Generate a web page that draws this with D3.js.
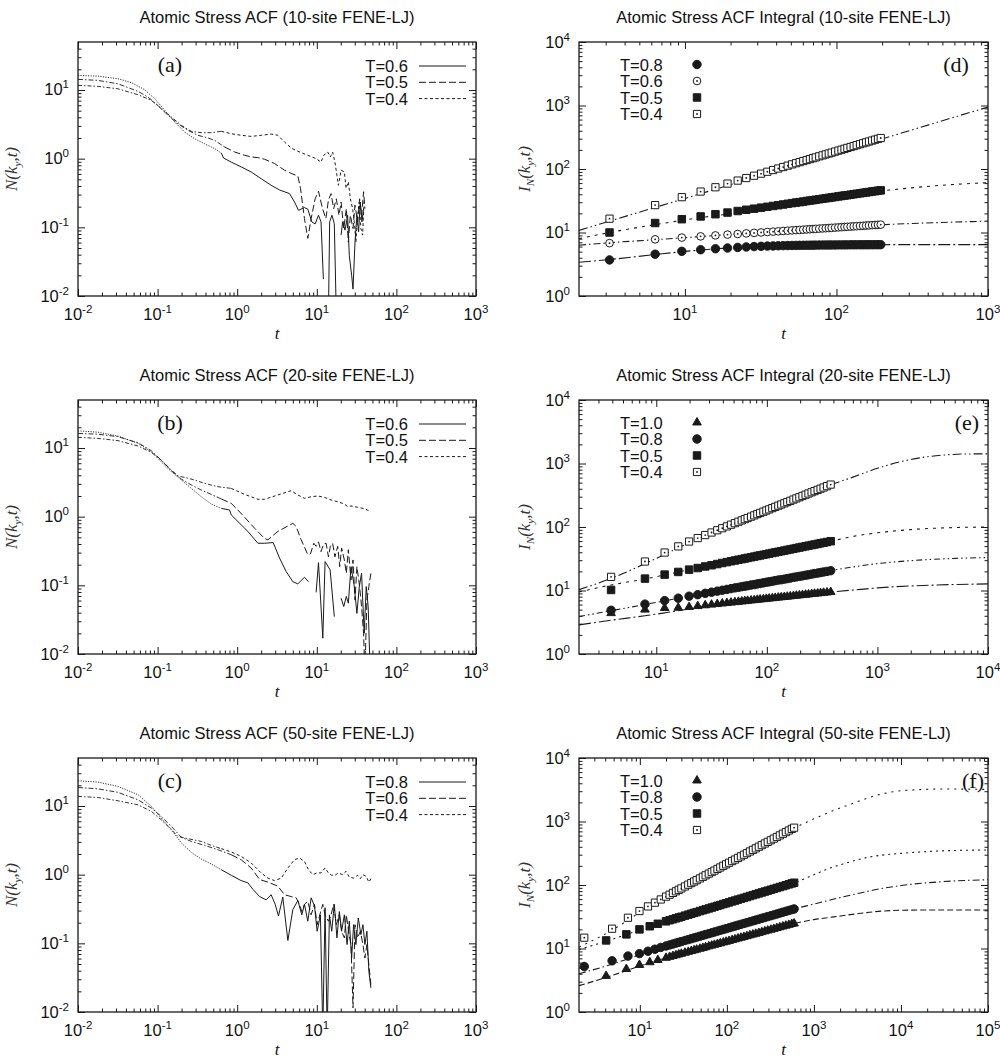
<!DOCTYPE html>
<html>
<head>
<meta charset="utf-8">
<script src="https://cdnjs.cloudflare.com/ajax/libs/d3/7.8.5/d3.min.js"></script>
<style>
body { margin: 0; background: #fff; }
text { font-family: "Liberation Sans", Arial, sans-serif; fill: #111; }
</style>
</head>
<body>
<svg id="fig" width="1000" height="1062"></svg>
<script>
// ---------- left column: stress ACF N(k_y,t), pairs [t, N], null = gap (negative values)
var aT06 = [[0.01,16.3],[0.0178,15.9],[0.0318,14.6],[0.0468,12.8],[0.0689,10.1],[0.0919,7.46],[0.123,5.05],[0.164,3.42],
  [0.219,2.44],[0.292,1.95],[0.390,1.65],[0.520,1.40],[0.631,1.21],[0.675,1.02],[0.842,0.89],[1.12,0.76],[1.50,0.64],
  [2.00,0.51],[2.67,0.41],[3.40,0.35],[4.54,0.31],[5.25,0.234],[5.89,0.177],[7.00,0.194],[7.71,0.184],[8.66,0.120],
  [9.53,0.112],[10.5,0.150],[11.3,0.120],[12.1,0.0176],null,[14.0,0.005],[14.5,0.120],[15.5,0.150],[16.6,0.113],
  [17.6,0.005],null,[20.2,0.077],[21.1,0.120],[22.6,0.091],[24.4,0.150],[25.6,0.039],[27.4,0.020],[28.5,0.0126],
  [30.2,0.061],[31.9,0.150],[33.5,0.086],[35.2,0.234],[36.9,0.120],[38.7,0.187]];
var aT05 = [[0.01,14.3],[0.0178,13.8],[0.0318,12.3],[0.0568,9.55],[0.0757,7.89],[0.101,5.97],[0.135,4.27],[0.180,3.23],
  [0.241,2.58],[0.321,2.19],[0.430,2.00],[0.520,1.85],[0.694,1.48],[0.929,1.25],[1.24,1.12],[1.50,1.06],[1.82,1.035],
  [2.21,0.98],[2.94,0.85],[3.93,0.68],[4.76,0.61],[5.78,0.56],[6.24,0.37],[7.00,0.134],[7.71,0.069],[8.49,0.134],
  [9.53,0.26],[10.5,0.335],[11.8,0.187],[13.0,0.134],[14.0,0.25],[15.1,0.31],[16.3,0.187],[17.6,0.26],[19.0,0.150],
  [20.2,0.234],[21.8,0.096],[23.5,0.187],[24.9,0.061],[26.4,0.150],[28.5,0.096],[30.2,0.21],[32.6,0.120],[34.5,0.26],
  [36.5,0.150],[38.7,0.33],[40.2,0.187]];
var aT04 = [[0.01,11.7],[0.0178,11.3],[0.0318,10.4],[0.0568,8.53],[0.0835,7.06],[0.111,5.34],[0.149,4.04],[0.199,3.05],
  [0.265,2.50],[0.354,2.39],[0.472,2.39],[0.631,2.50],[0.842,2.31],[1.12,2.19],[1.50,2.11],[2.00,2.19],[2.67,2.28],
  [3.24,2.19],[3.93,1.75],[4.76,1.43],[5.78,1.28],[7.71,1.12],[9.81,1.00],[11.3,0.89],[12.2,1.12],[13.7,1.25],
  [14.8,1.06],[15.8,1.25],[16.9,0.89],[17.9,0.57],[18.7,0.41],[20.2,0.68],[22.2,0.64],[23.3,0.37],[24.9,0.46],
  [26.4,0.26],[28.2,0.187],[29.6,0.120],[31.0,0.061],[32.6,0.150],[34.2,0.234],[35.8,0.096],[37.6,0.077],[39.4,0.26]];

var bT06 = [[0.01,17.8],[0.0178,17.0],[0.0318,14.9],[0.0568,11.7],[0.0835,8.83],[0.111,6.31],[0.149,4.52],[0.199,3.42],
  [0.265,2.58],[0.354,1.95],[0.472,1.53],[0.631,1.32],[0.802,1.25],[0.842,1.06],[1.02,0.85],[1.36,0.61],[1.82,0.41],
  [2.21,0.41],[2.83,0.42],[3.40,0.25],[4.12,0.159],[5.00,0.113],[5.78,0.105],[7.00,0.131],[7.86,0.113],null,
  [9.81,0.079],[10.5,0.214],[11.9,0.017],[12.7,0.222],[14.7,0.168],[16.6,0.035],null,[20.2,0.065],[21.8,0.049],
  [23.5,0.069],[24.9,0.055],[26.9,0.187],[29.6,0.096],[31.9,0.039],[34.2,0.096],[36.5,0.150],[39.4,0.020],
  [41.8,0.096],[44.2,0.049],[46.9,0.005]];
var bT05 = [[0.01,16.3],[0.0178,15.9],[0.0318,14.6],[0.0568,11.9],[0.0835,9.12],[0.111,6.67],[0.149,4.67],[0.199,3.53],
  [0.265,2.89],[0.354,2.44],[0.472,2.11],[0.631,1.81],[0.842,1.56],[1.02,1.25],[1.24,0.98],[1.65,0.68],[2.21,0.48],
  [2.43,0.46],[3.24,0.61],[4.33,0.73],[5.00,0.80],[5.50,0.72],[6.36,0.46],[7.71,0.28],[8.33,0.287],[9.17,0.41],
  [9.81,0.37],[10.5,0.43],[11.3,0.31],[12.2,0.40],[13.1,0.41],[14.0,0.26],[14.8,0.37],[15.8,0.41],[16.9,0.26],
  [18.3,0.37],[19.4,0.187],[20.5,0.35],[22.2,0.234],[23.5,0.150],[24.9,0.33],[26.9,0.120],[28.5,0.234],[30.2,0.061],
  [31.9,0.187],[34.5,0.096],[36.5,0.049],[38.7,0.020],[40.2,0.005],[42.6,0.061],[45.1,0.096],[47.8,0.150]];
var bT04 = [[0.01,14.3],[0.0178,13.8],[0.0318,12.8],[0.0568,10.7],[0.0835,8.63],[0.111,6.67],[0.149,4.78],[0.180,3.91],
  [0.219,3.73],[0.292,3.42],[0.390,3.05],[0.573,2.73],[0.842,2.58],[1.24,2.11],[1.82,1.79],[2.21,1.79],[3.24,2.07],
  [4.76,2.39],[5.78,2.07],[7.00,1.85],[8.49,1.95],[10.3,2.00],[12.5,1.91],[15.1,1.75],[18.3,1.65],[22.2,1.53],
  [24.4,1.40],[26.9,1.43],[32.6,1.37],[39.4,1.31],[47.8,1.18]];

var cT08 = [[0.01,23.3],[0.0178,22.3],[0.0318,19.3],[0.0568,14.6],[0.0835,9.86],[0.111,6.67],[0.149,4.52],[0.199,2.89],
  [0.265,2.11],[0.354,1.69],[0.472,1.43],[0.631,1.18],[0.842,0.98],[1.12,0.82],[1.36,0.76],[1.58,0.61],[1.91,0.48],
  [2.31,0.43],[2.67,0.51],[3.00,0.37],[3.30,0.25],[3.74,0.47],[4.33,0.110],[5.00,0.31],[5.78,0.42],[6.48,0.26],
  [7.00,0.37],[7.71,0.21],[8.49,0.46],[9.35,0.35],[10.1,0.150],[11.1,0.26],[11.9,0.005],[12.7,0.33],[13.5,0.005],
  [14.4,0.26],[15.4,0.150],[16.6,0.37],[17.9,0.120],[19.2,0.29],[20.5,0.150],[22.2,0.26],[24.0,0.096],[25.6,0.21],
  [27.4,0.061],[29.0,0.187],[31.0,0.096],[33.2,0.234],[35.8,0.134],[38.0,0.187],[40.2,0.096],[42.6,0.150],
  [45.1,0.039],[47.8,0.0225]];
var cT06 = [[0.01,18.6],[0.0178,17.8],[0.0318,15.8],[0.0568,12.3],[0.0835,9.33],[0.111,7.06],[0.149,5.05],[0.199,3.49],
  [0.265,3.05],[0.390,2.67],[0.573,2.31],[0.842,1.95],[1.12,1.65],[1.50,1.25],[1.91,0.85],[2.43,0.78],[3.24,0.68],
  [3.93,0.51],[4.76,0.48],[5.50,0.46],[6.06,0.37],[6.48,0.29],[7.00,0.37],[7.71,0.41],[8.49,0.26],[9.35,0.37],
  [10.1,0.187],[10.9,0.26],[11.9,0.37],[12.7,0.26],[14.0,0.21],[15.1,0.26],[16.3,0.37],[17.6,0.187],[19.2,0.26],
  [20.5,0.150],[22.2,0.120],[23.5,0.26],[25.4,0.134],[26.9,0.096],[28.5,0.0115],[30.2,0.187],[32.6,0.120],
  [35.2,0.150],[38.0,0.096],[40.2,0.061],[42.6,0.096],[45.1,0.049],[47.8,0.025]];
var cT04 = [[0.01,13.8],[0.0178,13.3],[0.0318,11.9],[0.0568,10.4],[0.0835,8.34],[0.111,6.31],[0.149,4.52],[0.180,3.61],
  [0.241,3.34],[0.354,3.05],[0.472,2.67],[0.631,2.39],[0.842,2.14],[1.12,1.85],[1.50,1.48],[2.00,1.06],[2.43,0.89],
  [2.94,0.82],[3.57,0.89],[4.33,1.25],[5.25,1.65],[6.06,1.75],[7.00,1.56],[7.86,1.18],[8.9,1.00],[10.1,1.06],
  [11.3,1.06],[12.7,1.25],[14.0,1.06],[15.4,0.98],[16.9,0.98],[18.7,1.06],[21.1,1.00],[23.3,1.12],[25.6,0.92],
  [29.0,0.89],[32.6,0.98],[35.2,0.875],[38.0,1.00],[41.8,0.94],[45.1,0.78],[47.8,0.875]];

// ---------- right column: integral I_N(k_y,t), markers on a shared time grid per panel
var dTimes = [3.18,6.36,9.54,12.7,15.9,19.1,22.3,25.4,28.6,31.8,35.0,38.2,41.3,44.5,47.7,50.9,54.1,57.2,60.4,63.6,66.8,70.0,
  73,77,81,85,89,93,98,103,108,113,118,124,130,136,143,150,157,164,172,180,188,196];
var dT08 = [3.7,4.55,5.05,5.35,5.55,5.7,5.82,5.92,6.0,6.06,6.11,6.15,6.18,6.21,6.23,6.25,6.27,6.28,6.29,6.30,6.31,6.32,
  6.33,6.34,6.35,6.35,6.36,6.37,6.37,6.38,6.38,6.39,6.39,6.40,6.40,6.41,6.41,6.41,6.42,6.42,6.42,6.43,6.43,6.43];
var dT06 = [6.8,7.80,8.32,8.69,9.00,9.26,9.48,9.68,9.86,10.02,10.18,10.32,10.44,10.57,10.69,10.79,10.89,10.99,11.08,11.17,11.25,11.34,
  11.41,11.51,11.59,11.68,11.77,11.85,11.94,12.04,12.13,12.22,12.30,12.39,12.49,12.58,12.68,12.77,12.86,12.95,13.05,13.13,13.22,13.31];
var dT05 = [10.0,14.1,16.2,17.9,19.4,20.6,21.8,22.8,23.7,24.6,25.4,26.2,26.9,27.6,28.3,29.0,29.6,30.1,30.7,31.3,31.8,32.3,
  32.8,33.4,34.0,34.6,35.1,35.7,36.3,37.0,37.6,38.2,38.7,39.4,40.1,40.7,41.4,42.1,42.8,43.4,44.2,44.8,45.5,46.1];
var dT04 = [16.5,27.0,36.0,44.1,51.6,58.9,65.7,72.1,78.4,84.5,90.5,96.3,101.8,107.4,112.9,118.3,123.4,128.3,133.4,138.3,143.2,148.2,
  152.4,158.5,164.1,169.9,175.4,181.1,187.9,194.8,201.4,208.0,214.8,222.3,229.6,237.5,246.0,254.6,263.0,271.0,280.5,289.7,298.5,307.6];
var dFit08 = [[2,3.4],[3.18,3.75],[6.36,4.5],[12.7,5.3],[25,5.9],[50,6.25],[100,6.38],[200,6.43],[1000,6.45]];
var dFit06 = [[2,6.3],[3.18,6.9],[6.36,7.7],[10,8.3],[20,9.3],[50,10.7],[100,11.9],[196,13.2],[500,14.4],[1000,15.1]];
var dFit05 = [[2,8.0],[3.18,10.0],[6.36,13.3],[10,15.8],[20,19.8],[50,27.2],[100,35.5],[196,45],[300,50],[500,55.5],[1000,61]];
var dFit04 = [[2,10.8],[10,34.4],[30,75.8],[100,180],[200,297],[500,576],[1000,945]];

var eTimes = [3.9,7.9,11.9,15.8,19.8,23.7,27.7,31.6,35.6,39.5,43.5,47.4,51.4,55.3,59.3,63.2,
  67,72,77,82,87,93,99,105,112,119,127,135,144,153,163,174,185,197,210,224,238,254,270,288,306,326,350,378];
var eT10 = [4.4,5.0,5.3,5.35,5.5,5.68,5.85,5.99,6.12,6.24,6.35,6.45,6.55,6.64,6.72,6.80,
  6.88,6.97,7.05,7.14,7.22,7.30,7.39,7.47,7.56,7.65,7.74,7.82,7.91,8.00,8.09,8.19,8.29,8.38,8.48,8.58,8.68,8.79,8.89,8.99,9.09,9.20,9.32,9.45];
var eT08 = [4.88,6.10,6.93,7.57,8.13,8.60,9.02,9.41,9.77,10.1,10.4,10.7,11.0,11.2,11.5,11.7,
  11.9,12.2,12.4,12.7,12.9,13.2,13.5,13.7,14.0,14.3,14.6,14.8,15.1,15.4,15.7,16.1,16.4,16.7,17.0,17.4,17.7,18.1,18.5,18.8,19.2,19.6,20.0,20.5];
var eT05 = [10.2,15.4,17.8,19.6,21.3,22.6,23.9,25.0,26.1,27.1,28.0,28.9,29.7,30.5,31.2,31.9,
  32.6,33.4,34.2,35.0,35.7,36.5,37.3,38.1,39.0,39.8,40.7,41.6,42.5,43.5,44.4,45.5,46.5,47.5,48.6,49.7,50.8,51.9,53.0,54.2,55.4,56.6,58.0,59.7];
var eT04 = [16.4,28.6,39.6,49.5,59.0,66.9,74.6,81.9,88.9,95.7,102.3,108.7,115.0,121.1,127.1,132.9,
  138.4,145.5,152.5,159.6,166.4,174.1,182.0,189.6,198.4,207.1,216.6,226.0,236.4,247.0,258.0,270.4,282.0,294.4,308.1,322.4,336.8,352.2,367.3,384.1,401.0,418.8,440.4,465.6];
var eFit10 = [[2,2.87],[3.9,3.4],[7.9,4.0],[12,4.45],[20,5.1],[50,6.3],[100,7.3],[200,8.35],[378,9.45],[700,10.4],[1000,11.0],[3000,12.1],[10000,12.7]];
var eFit08 = [[2,3.9],[3.9,4.8],[10,6.5],[20,8.1],[50,10.9],[100,13.5],[200,16.8],[378,20.5],[600,23.5],[1000,26.5],[2000,29.5],[5000,32],[10000,33]];
var eFit05 = [[2,9.5],[3.9,12.2],[7.9,15.2],[20,21.3],[50,29],[100,37.3],[200,47.5],[378,59.5],[600,71],[1000,81],[2000,91],[5000,98],[10000,100]];
var eFit04 = [[2,10.3],[3.9,15.5],[10,32],[20,57],[50,112],[100,185],[200,300],[378,460],[600,610],[1000,840],[1600,1060],[2500,1240],[4000,1360],[6000,1410],[10000,1420]];

var fTimes = [2.3,4.1,4.8,7.0,7.3,9.9,12.4,13.0,14.9,16.1,17.4,
  20,22,24,26,28,30,33,36,39,42,45,49,53,57,62,67,72,78,84,91,98,106,115,124,134,145,157,170,184,199,215,233,252,273,295,320,346,375,406,440,476,515,557,592];
var fT10 = [null,3.7,null,4.75,null,5.5,null,6.08,null,6.58,null,
  7.13,7.38,7.62,7.85,8.07,8.27,8.57,8.85,9.12,9.36,9.60,9.91,10.20,10.48,10.81,11.12,11.42,11.76,12.08,12.45,12.79,13.16,13.57,13.94,14.35,14.77,15.21,15.66,16.13,16.60,17.07,17.58,18.10,18.65,19.19,19.77,20.35,20.96,21.59,22.23,22.89,23.57,24.27,24.80];
var fT08 = [5.2,null,6.4,null,7.6,8.3,9.06,null,9.75,null,10.4,
  10.96,11.38,11.78,12.16,12.51,12.86,13.36,13.82,14.27,14.70,15.10,15.62,16.11,16.59,17.14,17.68,18.19,18.78,19.33,19.96,20.55,21.20,21.91,22.56,23.28,24.00,24.79,25.56,26.38,27.21,28.04,28.94,29.87,30.83,31.80,32.82,33.86,34.96,36.09,37.24,38.43,39.66,40.93,41.94];
var fT05 = [null,13.4,null,16.7,null,20.0,null,22.4,null,24.5,null,
  26.8,27.9,28.9,29.9,30.8,31.6,32.9,34.1,35.3,36.4,37.4,38.8,40.0,41.3,42.7,44.1,45.4,47.0,48.4,50.1,51.6,53.3,55.2,56.9,58.8,60.7,62.7,64.8,67.0,69.2,71.4,73.8,76.3,78.8,81.4,84.2,87.0,89.9,92.9,96.0,99.2,102.5,105.9,108.5];
var fT04 = [14.8,null,20.5,null,30.5,38.9,46.0,null,52.7,null,59.2,
  65.6,70.4,75.0,79.6,84.0,88.4,94.9,101.1,107.3,113.3,119.2,126.9,134.5,142.0,151.0,159.9,168.6,179.0,188.9,200.5,211.7,224.4,238.4,251.6,266.8,282.6,299.8,317.7,337.2,357.4,377.7,400.8,424.6,450.7,477.5,506.9,537.1,569.8,605.0,641.6,680.4,721.5,764.5,798.9];
var fFit10 = [[2,2.6],[4.1,3.5],[10,5.3],[30,8.4],[100,13.0],[300,19.3],[592,24.7],[1000,28.5],[1700,31.5],[3000,35],[5000,38],[10000,40],[30000,40.5],[100000,40.5]];
var fFit08 = [[2,4.0],[4.1,5.3],[10,7.9],[30,12.7],[100,20.5],[300,31.5],[592,42],[1000,50],[1700,60],[3000,72],[5000,84],[10000,98],[30000,113],[100000,121]];
var fFit05 = [[2,9.6],[4.1,13.0],[10,19.5],[30,31.5],[100,52],[300,82],[592,108],[1000,145],[1500,183],[2300,220],[4000,270],[6000,295],[10000,315],[30000,345],[100000,356]];
var fFit04 = [[2,10.5],[4.8,19.5],[10,37],[30,88],[100,215],[300,480],[592,790],[1000,1100],[1700,1500],[2300,1750],[3000,2000],[5600,2650],[10000,3050],[13500,3130],[30000,3250],[100000,3200]];

var leftLegendA = ["T=0.6","T=0.5","T=0.4"];
var leftLegendC = ["T=0.8","T=0.6","T=0.4"];

var svg = d3.select("#fig");
svg.append("rect").attr("width",1000).attr("height",1062).attr("fill","#fff");
var ink = "#1a1a1a";
var clipId = 0;

function decadeTicks(dom){
  var maj = [], min = [];
  var lo = Math.floor(Math.log10(dom[0])), hi = Math.ceil(Math.log10(dom[1]));
  for (var p = lo; p <= hi; p++) {
    var base = Math.pow(10,p);
    if (base >= dom[0]*0.999 && base <= dom[1]*1.001) maj.push(base);
    for (var k = 2; k <= 9; k++) {
      var v = k*base;
      if (v > dom[0]*1.001 && v < dom[1]*0.999) min.push(v);
    }
  }
  return {maj:maj, min:min};
}

function powLabel(g, v, x, y, anchor){
  var t = g.append("text").attr("x",x).attr("y",y).attr("text-anchor",anchor)
    .style("font-size","16.5px");
  t.append("tspan").text("10");
  t.append("tspan").attr("dy",-7).style("font-size","11.5px").text(String(Math.round(Math.log10(v))));
}

function frame(o){
  var g = svg.append("g").attr("transform","translate("+o.left+","+o.top+")");
  var x = d3.scaleLog().domain(o.xDom).range([0,o.w]);
  var y = d3.scaleLog().domain(o.yDom).range([o.h,0]);
  var xt = decadeTicks(o.xDom), yt = decadeTicks(o.yDom);
  var axes = [
    [d3.axisBottom, x, "0,"+o.h, xt], [d3.axisTop, x, "0,0", xt],
    [d3.axisLeft, y, "0,0", yt], [d3.axisRight, y, o.w+",0", yt]
  ];
  axes.forEach(function(a){
    [[a[3].maj,-7],[a[3].min,-3.5]].forEach(function(s){
      g.append("g").attr("transform","translate("+a[2]+")").style("color",ink)
        .call(a[0](a[1]).tickValues(s[0]).tickSize(s[1]).tickSizeOuter(0).tickFormat(""))
        .call(function(sel){
          sel.select(".domain").remove();
          sel.selectAll("line").attr("stroke-width",1);
        });
    });
  });
  g.append("rect").attr("width",o.w).attr("height",o.h).attr("fill","none")
    .attr("stroke",ink).attr("stroke-width",1.3);
  xt.maj.forEach(function(v){ powLabel(g, v, x(v), o.h+24, "middle"); });
  yt.maj.forEach(function(v){ powLabel(g, v, -9, y(v)+5.5, "end"); });

  g.append("text").attr("x",o.w/2).attr("y",-19).attr("text-anchor","middle")
    .style("font-size","16.5px").text(o.title);
  g.append("text").attr("x",o.w/2).attr("y",o.h+43).attr("text-anchor","middle")
    .style("font-family","'Liberation Serif',serif").style("font-style","italic").style("font-size","17px").text("t");

  var yl = g.append("text").attr("transform","translate("+o.ylabX+","+(o.h/2)+") rotate(-90)")
    .attr("text-anchor","middle").style("font-family","'Liberation Serif',serif")
    .style("font-style","italic").style("font-size","17px").style("fill","#333");
  if (o.integral) {
    yl.append("tspan").text("I");
    yl.append("tspan").attr("dy",4).style("font-size","11px").text("N");
    yl.append("tspan").attr("dy",-4).text("(k");
  } else {
    yl.append("tspan").text("N(k");
  }
  yl.append("tspan").attr("dy",4).style("font-size","11px").text("y");
  yl.append("tspan").attr("dy",-4).text(",t)");

  g.append("text").attr("x",o.tagX).attr("y",30).attr("text-anchor","middle")
    .style("font-family","'Liberation Serif',serif").style("font-size","22px").text(o.tag);

  clipId++;
  g.append("clipPath").attr("id","clip"+clipId).append("rect").attr("width",o.w).attr("height",o.h);
  var plot = g.append("g").attr("clip-path","url(#clip"+clipId+")");
  return {g:g, plot:plot, x:x, y:y};
}

// ---------- left panels
var lineStyles = {
  solid:  {late:null,    early:"1.2,1.3"},
  dashed: {late:"7,3",   early:"5,2,1.5,2"},
  dotted: {late:"3,2.5", early:"4,2,1.5,2"}
};

function acfPanel(o){
  var f = frame(o);
  var line = d3.line().defined(function(d){ return d !== null; })
    .x(function(d){ return f.x(d[0]); }).y(function(d){ return f.y(d[1]); });
  o.series.forEach(function(s){
    var st = lineStyles[s.style];
    var i = s.data.findIndex(function(d){ return d && d[0] > 0.6; });
    [[s.data.slice(0,i+1), st.early, 0.9],[s.data.slice(i), st.late, 1.0]].forEach(function(part){
      f.plot.append("path").datum(part[0]).attr("d",line).attr("fill","none")
        .attr("stroke",ink).attr("stroke-width",part[2])
        .attr("stroke-dasharray",part[1]);
    });
  });
  o.series.forEach(function(s,k){
    var yy = 30 + k*16.3;
    f.g.append("text").attr("x",330).attr("y",yy).attr("text-anchor","end")
      .style("font-size","16.5px").text(s.name);
    f.g.append("line").attr("x1",341).attr("x2",388).attr("y1",yy-6).attr("y2",yy-6)
      .attr("stroke",ink).attr("stroke-width",1).attr("stroke-dasharray",lineStyles[s.style].late);
  });
}

// ---------- right panels
function drawMarker(sel, type){
  var shapes = {
    circle:   [d3.symbolCircle, 56, true],
    ocircle:  [d3.symbolCircle, 46, false],
    square:   [d3.symbolSquare, 56, true],
    osquare:  [d3.symbolSquare, 52, false],
    triangle: [d3.symbolTriangle, 32, true]
  };
  var sh = shapes[type];
  sel.append("path").attr("d", d3.symbol().type(sh[0]).size(sh[1])())
    .attr("fill", sh[2] ? ink : "#fff").attr("stroke",ink).attr("stroke-width",1);
  if (!sh[2]) sel.append("circle").attr("r",0.9).attr("fill",ink);
}

function integralPanel(o){
  var f = frame(o);
  var line = d3.line().x(function(d){ return f.x(d[0]); }).y(function(d){ return f.y(d[1]); })
    .curve(d3.curveMonotoneX);
  o.series.forEach(function(s){
    f.plot.append("path").datum(s.fit).attr("d",line).attr("fill","none")
      .attr("stroke",ink).attr("stroke-width",1.1).attr("stroke-dasharray",s.dash);
  });
  o.series.forEach(function(s){
    o.times.forEach(function(t,i){
      var v = s.vals[i];
      if (v === null) return;
      var m = f.plot.append("g").attr("transform","translate("+f.x(t)+","+f.y(v)+")");
      drawMarker(m, s.marker);
    });
  });
  o.series.forEach(function(s,k){
    var yy = 28.5 + k*16.5;
    f.g.append("text").attr("x",41).attr("y",yy).style("font-size","16.5px").text(s.name);
    var m = f.g.append("g").attr("transform","translate(118,"+(yy-6)+")");
    drawMarker(m, s.marker);
  });
}

var L = 78, LW = 398, R = 579, RW = 409, PH = 254;

acfPanel({left:L, top:42, w:LW, h:PH, xDom:[0.01,1000], yDom:[0.01,50], ylabX:-61, tagX:92, tag:"(a)",
  title:"Atomic Stress ACF (10-site FENE-LJ)",
  series:[{name:leftLegendA[0],data:aT06,style:"solid"},{name:leftLegendA[1],data:aT05,style:"dashed"},{name:leftLegendA[2],data:aT04,style:"dotted"}]});
acfPanel({left:L, top:400, w:LW, h:PH, xDom:[0.01,1000], yDom:[0.01,50], ylabX:-61, tagX:92, tag:"(b)",
  title:"Atomic Stress ACF (20-site FENE-LJ)",
  series:[{name:leftLegendA[0],data:bT06,style:"solid"},{name:leftLegendA[1],data:bT05,style:"dashed"},{name:leftLegendA[2],data:bT04,style:"dotted"}]});
acfPanel({left:L, top:758, w:LW, h:PH, xDom:[0.01,1000], yDom:[0.01,50], ylabX:-61, tagX:92, tag:"(c)",
  title:"Atomic Stress ACF (50-site FENE-LJ)",
  series:[{name:leftLegendC[0],data:cT08,style:"solid"},{name:leftLegendC[1],data:cT06,style:"dashed"},{name:leftLegendC[2],data:cT04,style:"dotted"}]});

integralPanel({left:R, top:42, w:RW, h:PH, xDom:[2,1000], yDom:[1,10000], ylabX:-49, tagX:377, tag:"(d)", integral:true,
  title:"Atomic Stress ACF Integral (10-site FENE-LJ)", times:dTimes,
  series:[
    {name:"T=0.8", vals:dT08, marker:"circle",  fit:dFit08, dash:"12,3,2,3"},
    {name:"T=0.6", vals:dT06, marker:"ocircle", fit:dFit06, dash:"7,3,1.5,3"},
    {name:"T=0.5", vals:dT05, marker:"square",  fit:dFit05, dash:"3,5"},
    {name:"T=0.4", vals:dT04, marker:"osquare", fit:dFit04, dash:"9,3,1.5,3,1.5,3"}]});
integralPanel({left:R, top:400, w:RW, h:PH, xDom:[2,10000], yDom:[1,10000], ylabX:-49, tagX:388, tag:"(e)", integral:true,
  title:"Atomic Stress ACF Integral (20-site FENE-LJ)", times:eTimes,
  series:[
    {name:"T=1.0", vals:eT10, marker:"triangle", fit:eFit10, dash:"12,3,2,3"},
    {name:"T=0.8", vals:eT08, marker:"circle",   fit:eFit08, dash:"6,3,1.5,3,1.5,3"},
    {name:"T=0.5", vals:eT05, marker:"square",   fit:eFit05, dash:"3,5"},
    {name:"T=0.4", vals:eT04, marker:"osquare",  fit:eFit04, dash:"9,3,1.5,3,1.5,3"}]});
integralPanel({left:R, top:758, w:RW, h:PH, xDom:[2,100000], yDom:[1,10000], ylabX:-49, tagX:394, tag:"(f)", integral:true,
  title:"Atomic Stress ACF Integral (50-site FENE-LJ)", times:fTimes,
  series:[
    {name:"T=1.0", vals:fT10, marker:"triangle", fit:fFit10, dash:"6,3"},
    {name:"T=0.8", vals:fT08, marker:"circle",   fit:fFit08, dash:"7,3,1.5,3"},
    {name:"T=0.5", vals:fT05, marker:"square",   fit:fFit05, dash:"2,4"},
    {name:"T=0.4", vals:fT04, marker:"osquare",  fit:fFit04, dash:"2,5"}]});
</script>
</body>
</html>
